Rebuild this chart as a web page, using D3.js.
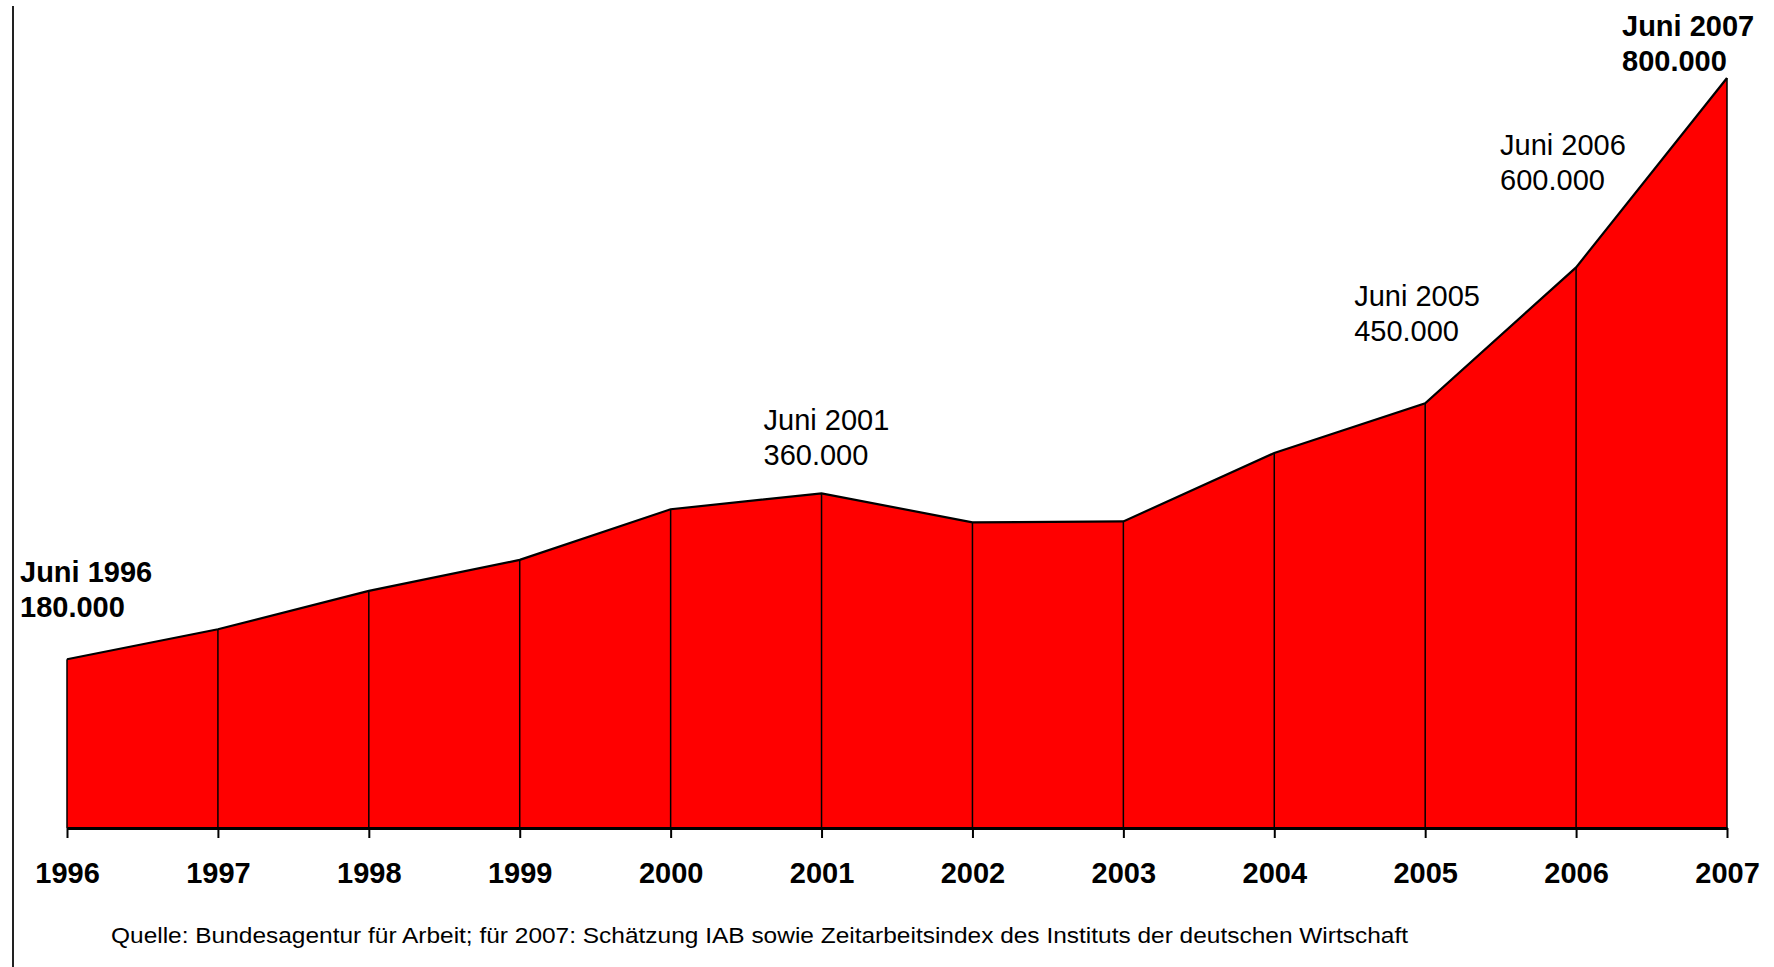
<!DOCTYPE html>
<html>
<head>
<meta charset="utf-8">
<script src="https://cdn.jsdelivr.net/npm/d3@7"></script>
<style>
  body { margin: 0; background: #fff; }
  svg { display: block; font-family: "Liberation Sans", Arial, sans-serif; }
</style>
</head>
<body>
<div id="chart"></div>
<script>
// data (temp workers, June of each year)
var years = [1996, 1997, 1998, 1999, 2000, 2001, 2002, 2003, 2004, 2005, 2006, 2007];
var workers = [180000, 212000, 253000, 286000, 340000, 357000, 326000, 327000, 400000, 453000, 598000, 800000];

// labelled points
var labelYears = [1996, 2001, 2005, 2006, 2007];
var labelLines = [
	["Juni 1996", "180.000"],
	["Juni 2001", "360.000"],
	["Juni 2005", "450.000"],
	["Juni 2006", "600.000"],
	["Juni 2007", "800.000"]
];
var labelBold = [true, false, false, false, true];
var source = "Quelle: Bundesagentur für Arbeit; für 2007: Schätzung IAB sowie Zeitarbeitsindex des Instituts der deutschen Wirtschaft";

var w = 1774, h = 967;
var svg = d3.select("#chart").append("svg")
	.attr("width", w)
	.attr("height", h);

var xScale = d3.scaleLinear()
	.domain([1996, 2007])
	.range([67, 1727]);
var yScale = d3.scaleLinear()
	.domain([0, 800000])
	.range([828, 78]);

var points = years.map(function(y, i) { return [y, workers[i]]; });

// left frame line
svg.append("line")
	.attr("x1", 13).attr("x2", 13)
	.attr("y1", 6).attr("y2", h)
	.attr("stroke", "#222")
	.attr("stroke-width", 2);

// red area
var area = d3.area()
	.x(function(d) { return xScale(d[0]); })
	.y0(yScale(0))
	.y1(function(d) { return yScale(d[1]); });
svg.append("path")
	.datum(points)
	.attr("d", area)
	.attr("fill", "#ff0000");

// vertical separators at each year
svg.selectAll(".sep")
	.data(points)
	.enter()
	.append("line")
	.attr("class", "sep")
	.attr("x1", function(d) { return xScale(d[0]); })
	.attr("x2", function(d) { return xScale(d[0]); })
	.attr("y1", function(d) { return yScale(d[1]); })
	.attr("y2", yScale(0))
	.attr("stroke", "#000")
	.attr("stroke-width", 1.5);

// top outline
var line = d3.line()
	.x(function(d) { return xScale(d[0]); })
	.y(function(d) { return yScale(d[1]); });
svg.append("path")
	.datum(points)
	.attr("d", line)
	.attr("fill", "none")
	.attr("stroke", "#000")
	.attr("stroke-width", 2.2);

// x axis
var xAxis = d3.axisBottom(xScale)
	.tickValues(years)
	.tickFormat(d3.format("d"))
	.tickSize(10)
	.tickSizeOuter(0);
var gx = svg.append("g")
	.attr("transform", "translate(0," + yScale(0) + ")")
	.call(xAxis);
gx.select(".domain")
	.attr("stroke", "#000")
	.attr("stroke-width", 3);
gx.selectAll(".tick line")
	.attr("stroke", "#000")
	.attr("stroke-width", 2);
gx.selectAll(".tick text")
	.attr("y", 55)
	.attr("dy", 0)
	.attr("fill", "#000")
	.style("font-size", "29px")
	.style("font-weight", "bold")
	.style("font-family", "'Liberation Sans', Arial, sans-serif");

// annotations, offsets from the data point
var labelDx = [-47, -58, -71, -76, -105];
var labelDy = [-77, -63, -97, -112, -42];
labelYears.forEach(function(yr, i) {
	var v = workers[years.indexOf(yr)];
	var t = svg.append("text")
		.attr("x", xScale(yr) + labelDx[i])
		.attr("y", yScale(v) + labelDy[i])
		.attr("font-size", "29px")
		.attr("font-weight", labelBold[i] ? "bold" : "normal")
		.attr("fill", "#000");
	labelLines[i].forEach(function(s, j) {
		t.append("tspan")
			.attr("x", xScale(yr) + labelDx[i])
			.attr("dy", j == 0 ? 0 : 35)
			.text(s);
	});
});

// source note
svg.append("text")
	.attr("x", 111)
	.attr("y", 943)
	.attr("font-size", "22px")
	.attr("textLength", 1297)
	.attr("lengthAdjust", "spacingAndGlyphs")
	.attr("fill", "#000")
	.text(source);
</script>
</body>
</html>
